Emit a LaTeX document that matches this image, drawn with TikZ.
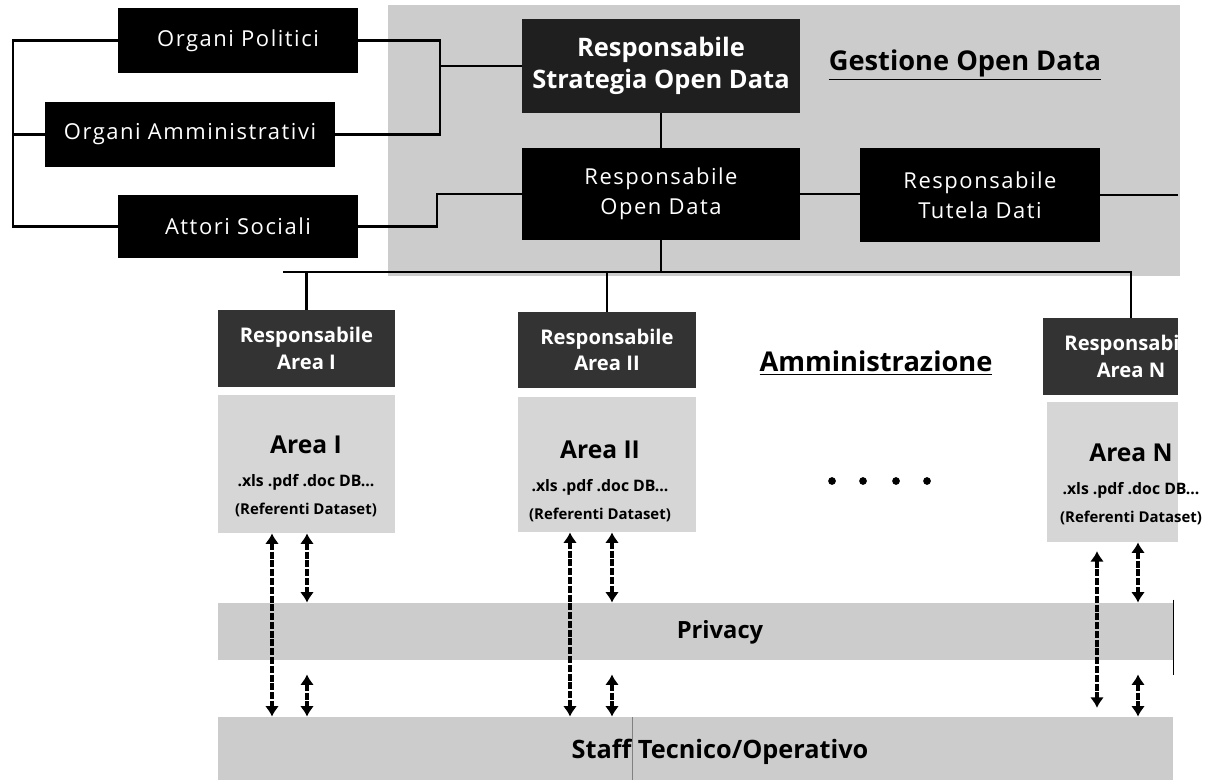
\documentclass[tikz,border=0pt]{standalone}
\usepackage{fontspec}
\setmainfont{Open Sans}
\usetikzlibrary{arrows.meta}
\definecolor{zonegray}{gray}{0.80}
\definecolor{areagray}{gray}{0.84}
\definecolor{headgray}{gray}{0.20}
\definecolor{stratgray}{gray}{0.12}
\tikzset{
  box/.style={fill=black, text=white, inner sep=0pt, align=center, font=\addfontfeatures{LetterSpace=7}\fontsize{12.5}{17}\selectfont},
  headbox/.style={fill=headgray, text=white, inner sep=0pt, align=center, font=\bfseries\fontsize{11.5}{15}\selectfont},
  areabox/.style={fill=areagray, inner sep=0pt},
  band/.style={fill=zonegray, inner sep=0pt, minimum width=19.1cm},
  link/.style={line width=1.4pt},
  flow/.style={{Latex[length=6pt,width=8pt]}-{Latex[length=6pt,width=8pt]}, line width=2.4pt, dash pattern=on 4pt off 1pt},
  title/.style={font=\bfseries\fontsize{13.5}{16}\selectfont},
}
\begin{document}
\begin{tikzpicture}[x=0.02cm, y=-0.02cm]
\useasboundingbox (0,0) rectangle (1206,780);
% zona gestione open data
\fill[zonegray] (388,5) rectangle (1180,276);
\node[title, font=\bfseries\fontsize{15.5}{18}\selectfont] (gest) at (965,65) {\underline{Gestione Open Data}};
% attori esterni
\node[box, minimum width=4.8cm, minimum height=1.3cm] (pol) at (238,40.5) {Organi Politici};
\node[box, minimum width=5.8cm, minimum height=1.3cm] (amm) at (190,134.5) {Organi Amministrativi};
\node[box, minimum width=4.8cm, minimum height=1.26cm] (att) at (238,226.5) {Attori Sociali};
% responsabili
\node[box, fill=stratgray, font=\bfseries\fontsize{14.5}{18}\selectfont, minimum width=5.56cm, minimum height=1.88cm] (strat) at (661,66) {Responsabile\\Strategia Open Data};
\node[box, minimum width=5.56cm, minimum height=1.84cm] (od) at (661,194) {Responsabile\\Open Data};
\node[box, minimum width=4.8cm, minimum height=1.9cm] (tut) at (980,195) {Responsabile\\Tutela Dati};
\coordinate (lb) at (13,40);
\coordinate (rb) at (440,40);
\coordinate (rb2) at (437,226);
\coordinate (tr) at (1178,195);
\draw[link] (pol.west) -- (pol.west -| lb) |- (att.west);
\draw[link] (amm.west) -- (amm.west -| lb);
\draw[link] (pol.east) -- (pol.east -| rb) |- (amm.east);
\draw[link] (strat.west) -- (strat.west -| rb);
\draw[link] (att.east) -- (att.east -| rb2) |- (od.west);
\draw[link] (strat.south) -- (od.north);
\draw[link] (od.east) -- (od.east -| tut.west);
\draw[link] (tut.east) -- (tr);
% amministrazione
\node[title, font=\bfseries\fontsize{15.5}{18}\selectfont] (admin) at (876,363) {\underline{Amministrazione}};
\node[headbox, minimum width=3.54cm, minimum height=1.54cm] (ra1) at (306.5,348.5) {Responsabile\\Area I};
\node[headbox, minimum width=3.56cm, minimum height=1.52cm] (ra2) at (607,350) {Responsabile\\Area II};
\node[headbox, minimum width=2.7cm, minimum height=1.54cm] (raN) at (1110.5,356.5) {};
\node[headbox, fill=none] (raNt) at (1131,356.5) {Responsabile\\Area N};
\coordinate (busL) at (283,272);
\coordinate (busR) at (1131,272);
\draw[link] (od.south) -- (od.south |- busL);
\draw[link] (busL) -- (busR) -- (busR |- raN.north);
\draw[link] (ra1.north |- busL) -- (ra1.north);
\draw[link] (ra2.north |- busL) -- (ra2.north);
% aree
\node[areabox, minimum width=3.54cm, minimum height=2.76cm] (a1) at (306.5,464) {};
\node[areabox, minimum width=3.56cm, minimum height=2.7cm] (a2) at (607,464.5) {};
\node[areabox, minimum width=2.62cm, minimum height=2.8cm] (aN) at (1112.5,472) {};
\foreach \n/\x/\y/\t in {1/306/445/I, 2/600/450/II, N/1131/453/N}{
  \node[font=\bfseries\fontsize{14}{16}\selectfont] (t\n) at (\x,\y) {Area \t};
  \node[font=\bfseries\fontsize{9}{11}\selectfont] (f\n) at (\x,\y+37) {.xls .pdf .doc DB...};
  \node[font=\bfseries\fontsize{8.5}{10}\selectfont] (r\n) at (\x,\y+65) {(Referenti Dataset)};
}
\foreach \x in {832,863,896,927}
  \fill (\x,481) circle (2.2pt);
% fasce
\node[band, minimum height=1.14cm] (priv) at (695.5,631.5) {};
\node[band, minimum height=1.26cm] (staff) at (695.5,748.5) {};
\node[title] (privt) at (720,632) {Privacy};
\node[title, font=\bfseries\fontsize{14.4}{17}\selectfont] (stafft) at (720,752) {Staff Tecnico/Operativo};
\draw[thin] (priv.north east) ++(0,-3) -- ++(0,75);
\draw[very thin, gray] (632,717) -- (632,780);
% flussi
\coordinate (c1) at (272,0);
\coordinate (c2) at (570,0);
\coordinate (c3) at (1097,0);
\draw[flow] (a1.south -| c1) -- (staff.north -| c1);
\draw[flow] (a2.south -| c2) -- (staff.north -| c2);
\draw[flow] ([yshift=-5]aN.south -| c3) -- ([yshift=5]staff.north -| c3);
\foreach \b/\x in {a1/307, a2/612, aN/1138}{
  \coordinate (s\b) at (\x,0);
  \draw[flow] (\b.south -| s\b) -- (priv.north -| s\b);
  \draw[flow] ([yshift=-8]priv.south -| s\b) -- (staff.north -| s\b);
}
\end{tikzpicture}
\end{document}
